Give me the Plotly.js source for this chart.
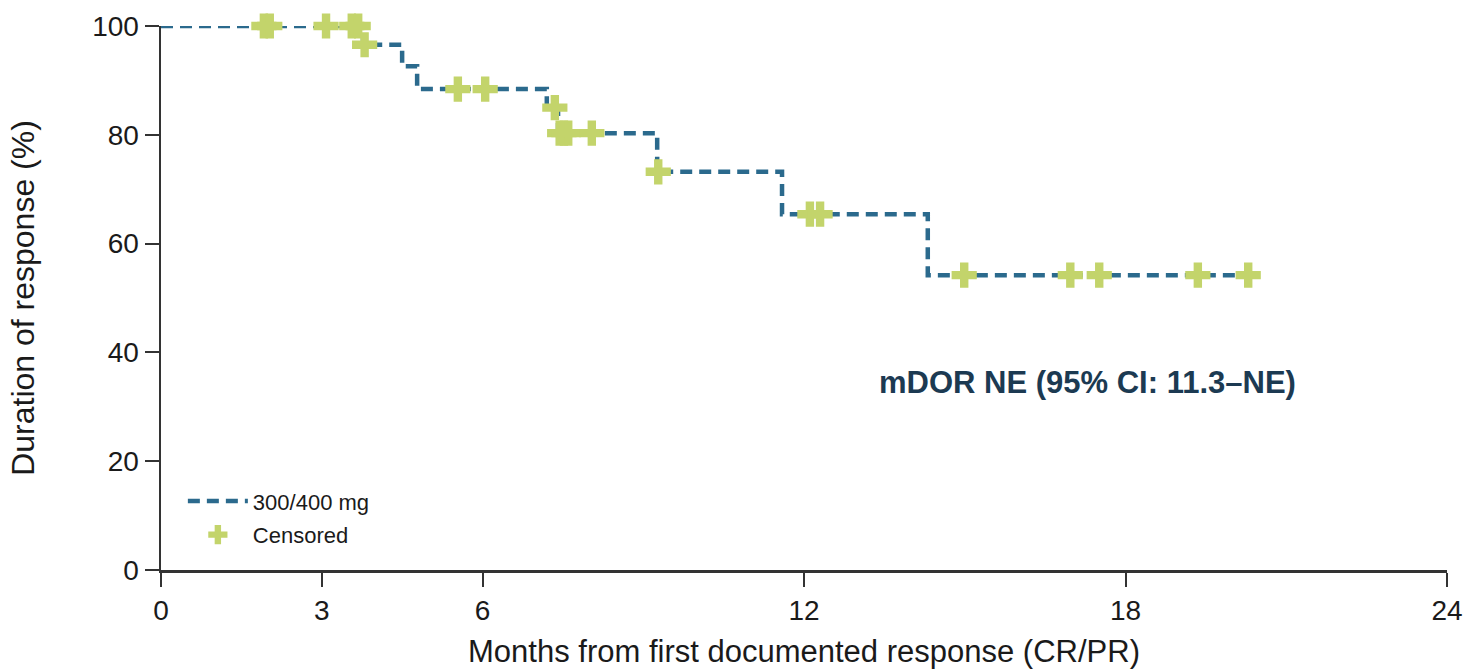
<!DOCTYPE html>
<html>
<head>
<meta charset="utf-8">
<script src="https://cdn.plot.ly/plotly-3.0.1.min.js"></script>
<style>html,body{margin:0;padding:0;background:#fff;}#chart{width:1466px;height:669px;}</style>
</head>
<body>
<div id="chart"></div>
<script>
// Kaplan-Meier step curve (months, % responding)
const stepMonths = [0, 3.77, 4.5, 4.78, 7.2, 7.41, 9.26, 11.59, 14.31, 20.29];
const stepSurvival = [100, 96.55, 92.6, 88.4, 85.0, 80.3, 73.2, 65.4, 54.2, 54.2];

// Censored observations
const censorMonths = [1.92, 2.03, 3.08, 3.56, 3.68, 3.8, 5.54, 6.05, 7.35, 7.44, 7.52, 7.6, 8.04, 9.28, 12.11, 12.3, 14.99, 16.97, 17.51, 19.35, 20.29];
const censorSurvival = [100, 100, 100, 100, 100, 96.55, 88.4, 88.4, 85.0, 80.3, 80.3, 80.3, 80.3, 73.2, 65.4, 65.4, 54.2, 54.2, 54.2, 54.2, 54.2];

const xTicks = [0, 3, 6, 12, 18, 24];
const yTicks = [0, 20, 40, 60, 80, 100];

const seriesName = "300/400 mg";
const censorName = "Censored";
const annotationText = "mDOR NE (95% CI: 11.3–NE)";
const xTitle = "Months from first documented response (CR/PR)";
const yTitle = "Duration of response (%)";

const lineColor = "#2b6a8d";
const censorColor = "#c3d46b";
const font = "Liberation Sans, Arial, sans-serif";

const traces = [
  {
    x: stepMonths, y: stepSurvival, type: "scatter", mode: "lines",
    name: seriesName, legendgroup: "km",
    line: {shape: "hv", color: lineColor, width: 4.5, dash: "12px,7px"},
    cliponaxis: false
  },
  {
    x: censorMonths, y: censorSurvival, type: "scatter", mode: "markers",
    name: censorName, legendgroup: "cens",
    marker: {symbol: "cross", size: 21, color: censorColor, line: {width: 0}},
    cliponaxis: false
  }
];

const layout = {
  width: 1466, height: 669,
  margin: {l: 161, r: 19, t: 26, b: 99},
  paper_bgcolor: "#fff", plot_bgcolor: "#fff",
  font: {family: font, color: "#1a1a1a", size: 22},
  showlegend: true,
  legend: {
    x: 0.017, y: 0.165, xanchor: "left", yanchor: "top",
    font: {family: font, size: 22, color: "#1a1a1a"},
    bgcolor: "rgba(0,0,0,0)", itemwidth: 60, tracegroupgap: 2
  },
  xaxis: {
    range: [0, 24], tickvals: xTicks, ticktext: xTicks.map(String),
    showgrid: false, zeroline: false, showline: true, automargin: false,
    linecolor: "#333", linewidth: 2.5,
    ticks: "outside", ticklen: 14, tickwidth: 2, tickcolor: "#333",
    tickfont: {family: font, size: 28, color: "#1a1a1a"},
    title: {text: xTitle, font: {family: font, size: 31, color: "#1a1a1a"}, standoff: 18}
  },
  yaxis: {
    range: [0, 100], tickvals: yTicks, ticktext: yTicks.map(String),
    showgrid: false, zeroline: false, showline: true, automargin: false,
    linecolor: "#333", linewidth: 2.5,
    ticks: "outside", ticklen: 14, tickwidth: 2, tickcolor: "#333",
    tickfont: {family: font, size: 28, color: "#1a1a1a"},
    title: {text: yTitle + "\u00A0\u00A0\u00A0", font: {family: font, size: 32, color: "#1a1a1a"}, standoff: 48}
  },
  annotations: [{
    x: 17.3, y: 34.4, xref: "x", yref: "y",
    text: "<b>" + annotationText + "</b>", showarrow: false,
    font: {family: font, size: 31, color: "#1c3a52"}
  }]
};

Plotly.newPlot("chart", traces, layout, {displayModeBar: false, staticPlot: true});
</script>
</body>
</html>
